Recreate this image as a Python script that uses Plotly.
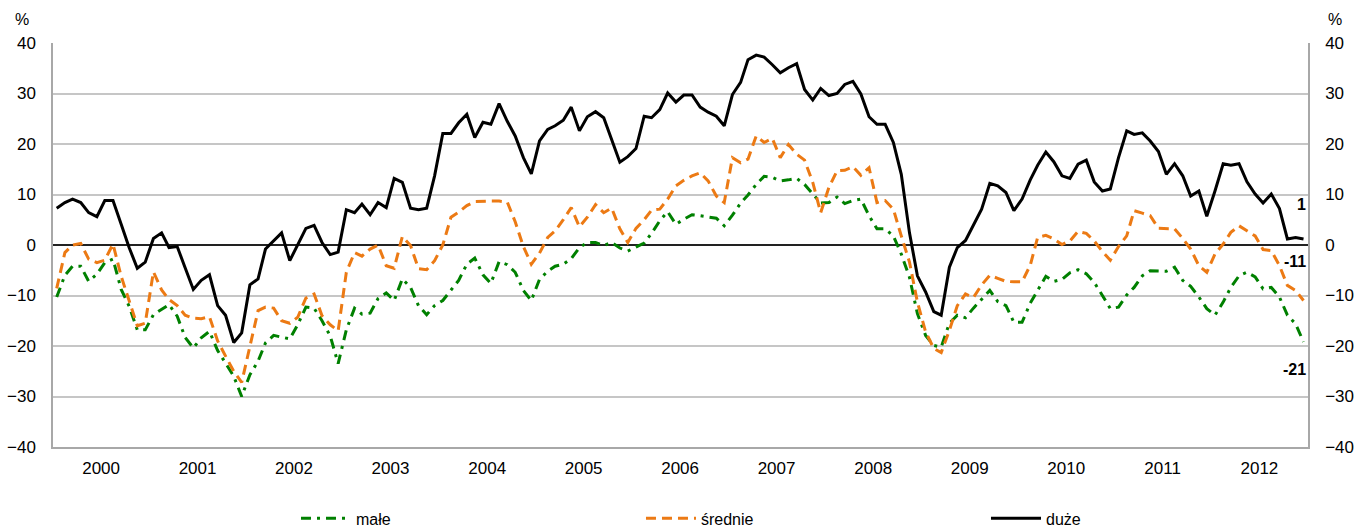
import plotly.graph_objects as go

years = list(range(2000, 2013))
months = [f"{y}-{m:02d}-15" for y in years for m in range(1, 13)]
year_labels = [str(y) for y in years]

duze = [7.3, 8.4, 9.1, 8.4, 6.4, 5.6, 8.8, 8.8, 4.1, -0.5, -4.6, -3.4,
        1.3, 2.4, -0.5, -0.3, -4.5, -8.8, -7.0, -5.9, -12.0, -13.9, -19.3, -17.4,
        -7.9, -6.7, -0.8, 0.9, 2.4, -3.1, -0.1, 3.3, 3.9, 0.5, -1.9, -1.4,
        7.0, 6.4, 8.1, 6.0, 8.4, 7.4, 13.2, 12.4, 7.3, 7.0, 7.3, 13.7,
        22.1, 22.1, 24.2, 25.9, 21.3, 24.3, 23.9, 28.0, 24.5, 21.6, 17.3, 14.1,
        20.6, 22.9, 23.6, 24.7, 27.3, 22.6, 25.4, 26.4, 25.2, 20.9, 16.4, 17.5,
        19.1, 25.5, 25.2, 26.8, 30.1, 28.3, 29.7, 29.7, 27.3, 26.3, 25.5, 23.6,
        29.8, 32.2, 36.7, 37.6, 37.2, 35.7, 34.1, 35.1, 35.9, 30.8, 28.7, 31.0,
        29.6, 30.0, 31.8, 32.4, 29.9, 25.4, 23.9, 23.9, 20.3, 14.0, 2.4, -6.1,
        -9.3, -13.2, -13.9, -4.4, -0.5, 0.9, 3.8, 7.1, 12.2, 11.7, 10.4, 6.8,
        9.1, 12.9, 15.8, 18.4, 16.5, 13.7, 13.2, 16.0, 16.8, 12.5, 10.7, 11.1,
        17.3, 22.6, 21.9, 22.2, 20.6, 18.5, 14.0, 16.1, 13.7, 9.7, 10.7, 5.7,
        10.7, 16.1, 15.8, 16.1, 12.5, 10.1, 8.3, 10.1, 7.2, 1.2, 1.5, 1.2]

srednie = [-8.6, -1.5, 0.0, 0.3, -2.8, -3.5, -3.0, 0.2, -6.2, -11.1, -16.0, -15.5,
           -5.3, -8.9, -10.8, -12.0, -13.9, -14.5, -14.6, -14.2, -19.0, -22.0, -25.0, -27.2,
           -20.0, -13.0, -12.3, -12.5, -15.0, -15.5, -14.3, -10.5, -9.7, -14.0, -15.8, -17.0,
           -5.4, -1.5, -2.2, -0.8, 0.0, -4.1, -4.6, 1.7, -0.1, -4.7, -4.9, -3.1,
           0.0, 5.5, 6.5, 7.8, 8.6, 8.7, 8.7, 8.7, 8.5, 4.6, -0.3, -3.8,
           -1.6, 1.5, 2.8, 5.0, 7.4, 3.6, 5.5, 8.0, 6.4, 7.3, 3.2, 0.5,
           3.3, 5.0, 6.9, 7.1, 9.1, 11.7, 12.8, 13.7, 14.3, 12.7, 9.7, 8.4,
           17.3, 16.3, 17.0, 21.6, 20.3, 21.1, 17.3, 19.9, 18.0, 16.8, 12.4, 6.4,
           11.4, 14.7, 14.8, 15.5, 13.8, 15.3, 8.4, 8.8, 7.1, 1.8, -3.4, -11.3,
           -17.2, -20.5, -21.3, -16.9, -12.0, -9.7, -10.4, -7.9, -6.0, -6.6, -7.2, -7.3,
           -7.3, -4.0, 1.5, 1.9, 1.2, 0.1, 0.8, 2.7, 2.3, 0.8, -1.3, -3.0,
           -0.3, 1.8, 6.8, 6.3, 5.8, 3.3, 3.3, 3.2, 1.3, -0.8, -4.1, -5.4,
           -1.8, 0.2, 2.5, 3.8, 2.8, 1.8, -0.9, -1.1, -4.1, -8.0, -9.0, -11.0]

male = [-10.3, -6.0, -4.2, -4.2, -7.2, -5.8, -3.5, -2.8, -8.8, -12.1, -16.8, -16.8,
        -13.8, -12.8, -11.8, -14.1, -18.3, -20.4, -18.4, -17.1, -20.9, -23.4, -26.0, -30.0,
        -25.7, -23.0, -19.4, -17.9, -18.2, -18.6, -15.8, -12.3, -12.5, -15.0, -18.0, -23.5,
        -16.8, -12.5, -13.7, -13.5, -10.6, -9.5, -11.0, -6.7, -8.4, -12.0, -13.8, -12.0,
        -11.0, -9.0, -7.0, -3.8, -2.6, -5.9, -7.6, -3.3, -3.9, -5.4, -9.0, -11.0,
        -6.8, -5.2, -4.2, -3.8, -2.7, -0.5, 0.5, 0.5, -0.1, 0.5, -0.6, -1.2,
        -0.4, 0.4, 2.3, 4.8, 6.6, 4.1, 5.1, 6.0, 5.8, 5.6, 5.3, 3.8,
        5.9, 8.3, 9.9, 12.0, 13.6, 13.4, 12.7, 12.9, 13.2, 12.0, 10.1, 8.3,
        8.4, 9.5, 8.2, 8.8, 9.1, 5.8, 3.2, 3.2, 1.8, -1.8, -6.4, -13.6,
        -17.9, -19.9, -20.2, -15.5, -13.9, -14.4, -12.5, -10.8, -9.0, -11.2, -12.0, -15.3,
        -15.3, -11.5, -9.0, -6.2, -7.2, -6.8, -5.5, -4.9, -5.7, -7.4, -10.0, -12.6,
        -12.3, -9.9, -8.4, -6.1, -5.1, -5.1, -5.2, -4.4, -7.0, -8.2, -10.3, -12.6,
        -13.9, -11.3, -8.4, -6.1, -5.4, -6.3, -8.7, -8.4, -10.3, -13.9, -15.6, -19.2]

series_names = ["małe", "średnie", "duże"]
end_labels = ["-21", "-11", "1"]
end_label_pos = [-24.6, -3.2, 8.0]

FONT = "Liberation Sans"
GRID = "#C6C6C6"
AXIS = "#A8A8A8"
TICK_SIZE = 17

fig = go.Figure()
fig.add_trace(go.Scatter(x=months, y=male, name=series_names[0], mode="lines",
                         line=dict(color="#008000", width=3, dash="10px,6px,3px,6px")))
fig.add_trace(go.Scatter(x=months, y=srednie, name=series_names[1], mode="lines",
                         line=dict(color="#EC7A14", width=3, dash="10px,6px")))
fig.add_trace(go.Scatter(x=months, y=duze, name=series_names[2], mode="lines",
                         line=dict(color="#000000", width=3)))
# carrier trace for right-hand axis (invisible)
fig.add_trace(go.Scatter(x=months, y=duze, yaxis="y2", mode="lines", showlegend=False,
                         hoverinfo="skip", opacity=0, line=dict(width=0)))

annotations = []
for txt, yv in zip(end_labels, end_label_pos):
    annotations.append(dict(text=f"<b>{txt}</b>", x=1, xref="paper", xanchor="right",
                            y=yv, yref="y", yanchor="middle", showarrow=False,
                            font=dict(size=16, family=FONT, color="black")))
annotations.append(dict(text="%", x=-0.0245, xref="paper", xanchor="center",
                        y=1.058, yref="paper", yanchor="middle", showarrow=False,
                        font=dict(size=16, family=FONT, color="black")))
annotations.append(dict(text="%", x=1.0215, xref="paper", xanchor="center",
                        y=1.058, yref="paper", yanchor="middle", showarrow=False,
                        font=dict(size=16, family=FONT, color="black")))

fig.update_layout(
    width=1354, height=529,
    margin=dict(l=53, r=46, t=43, b=82, autoexpand=False),
    plot_bgcolor="white", paper_bgcolor="white",
    font=dict(family=FONT, size=16, color="black"),
    showlegend=True,
    legend=dict(orientation="h", xref="container", yref="container",
                x=0.2186, xanchor="left", y=0.02, yanchor="middle",
                entrywidth=280, entrywidthmode="pixels", itemwidth=50,
                font=dict(size=16, family=FONT), bgcolor="rgba(0,0,0,0)"),
    xaxis=dict(type="date", range=["2000-01-01", "2013-01-01"],
               tickvals=[f"{y}-07-01" for y in years], ticktext=year_labels,
               showgrid=False, showline=True, linecolor=AXIS, linewidth=1.5,
               ticks="", tickfont=dict(size=TICK_SIZE), ticklabelstandoff=5,
               zeroline=False, automargin=False),
    yaxis=dict(range=[-40, 40], dtick=10, tick0=0, showgrid=True, gridcolor=GRID,
               gridwidth=1.5, zeroline=True, zerolinecolor="#222222", zerolinewidth=2,
               showline=True, linecolor=AXIS, linewidth=1.5, ticks="",
               ticklabelstandoff=12, tickfont=dict(size=TICK_SIZE), automargin=False),
    yaxis2=dict(range=[-40, 40], dtick=10, tick0=0, overlaying="y", side="right",
                showgrid=False, zeroline=False, showline=True, linecolor=AXIS,
                linewidth=1.5, ticks="", ticklabelstandoff=12,
                tickfont=dict(size=TICK_SIZE), automargin=False),
    annotations=annotations,
)

fig.write_html("out.html", config={"displayModeBar": False},
               post_script="document.body.style.margin='0';document.body.style.overflow='hidden';")
